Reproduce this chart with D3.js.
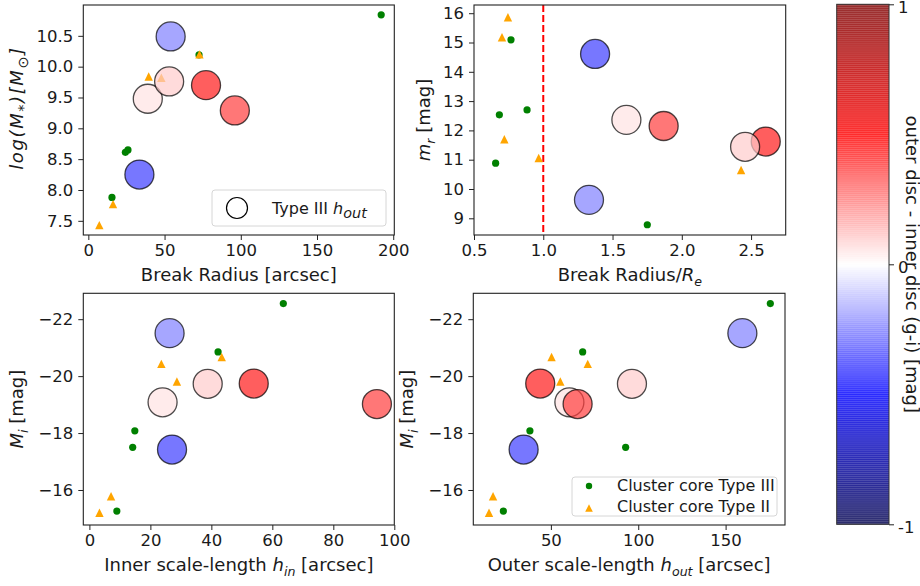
<!DOCTYPE html>
<html>
<head>
<meta charset="utf-8">
<script src="https://cdn.jsdelivr.net/npm/d3@7"></script>
<style>
  body { margin: 0; background: #fff; }
  svg { display: block; font-family: "DejaVu Sans", sans-serif; }
</style>
</head>
<body>
<svg id="chart" width="920" height="586"></svg>
<script>
'use strict';

/* global d3 */

// Type III h_out sample (big circles), colour = outer - inner disc (g-i)
var houtColour = [-0.25, 0.056, 0.45, 0.10, 0.38, -0.38];
var houtBreak = [54.0, 39.0, 77.2, 53.0, 96.1, 33.5];
var houtMass = [10.49, 9.48, 9.70, 9.76, 9.29, 8.25];
var houtRatio = [1.330, 1.600, 2.606, 2.457, 1.869, 1.374];
var houtMr = [9.63, 12.36, 11.62, 11.44, 12.15, 14.61];
var houtHin = [26.3, 24.0, 53.9, 38.8, 94.3, 27.1];
var houtHout = [159.6, 60.6, 43.9, 96.4, 65.3, 34.4];
var houtMi = [-21.51, -19.08, -19.74, -19.73, -19.02, -17.42];

// Cluster core Type III
var c3Break = [192.1, 72.6, 24.3, 26.0, 15.5];
var c3Mass = [10.84, 10.19, 8.61, 8.65, 7.88];
var c3Ratio = [1.751, 0.656, 0.683, 0.883, 0.767];
var c3Mr = [8.78, 10.88, 12.53, 12.70, 15.09];
var c3Hin = [63.6, 42.2, 14.9, 14.2, 9.0];
var c3Hout = [175.6, 68.2, 38.0, 92.8, 22.8];
var c3Mi = [-22.55, -20.85, -18.08, -17.50, -15.26];

// Cluster core Type II
var c2Break = [72.9, 39.6, 47.9, 16.2, 7.2];
var c2Mass = [10.20, 9.84, 9.82, 7.77, 7.43];
var c2Ratio = [2.428, 0.967, 0.719, 0.702, 0.745];
var c2Mr = [10.65, 11.06, 11.70, 15.18, 15.86];
var c2Hin = [43.4, 23.6, 28.7, 7.1, 3.3];
var c2Hout = [50.4, 71.1, 55.4, 16.9, 14.6];
var c2Mi = [-20.67, -20.43, -19.81, -15.78, -15.20];

var colourTicks = [-1, 0, 1];

var svg = d3.select('#chart');
var tickSize = 16.5;
var labelSize = 18;
var legendSize = 16;

var seismic = d3.scaleLinear()
  .domain([-1, -0.5, 0, 0.5, 1])
  .range(['#00004d', '#0000ff', '#ffffff', '#ff0000', '#800000'])
  .clamp(true);

// text with italic parts and subscripts
function rich(sel, parts, size, subScale) {
  var shift = 0;
  subScale = subScale || 0.7;
  parts.forEach(function (p) {
    var t = sel.append('tspan').text(p.t);
    if (p.it) t.attr('font-style', 'italic');
    var want = p.sub ? size * 0.25 : 0;
    if (want !== shift) {
      t.attr('dy', want - shift);
      shift = want;
    }
    if (p.sub) t.attr('font-size', size * subScale);
  });
  return sel;
}

function triangle(s) {
  return 'M0,' + (-s) + 'L' + (-s) + ',' + s + 'L' + s + ',' + s + 'Z';
}

var panels = [
  {
    box: [83.3, 5, 394.3, 235], xd: [-3.3, 200.7], yd: [7.27, 11.0],
    xt: [0, 50, 100, 150, 200], yt: [7.5, 8, 8.5, 9, 9.5, 10, 10.5],
    xf: d3.format('d'), yf: d3.format('.1f'),
    x3: c3Break, y3: c3Mass, x2: c2Break, y2: c2Mass, xh: houtBreak, yh: houtMass,
    xlab: [{ t: 'Break Radius [arcsec]' }],
    ylab: [{ t: 'log(M', it: true }, { t: '*', sub: true, it: true }, { t: ')[M', it: true }, { t: '\u2299', sub: true }, { t: ']', it: true }],
    ylabOff: 60, ylabShift: -12, ylabSpace: 1.6, subScale: 0.8
  },
  {
    box: [474, 5, 785.7, 235], xd: [0.5, 2.75], yd: [8.43, 16.28],
    xt: [0.5, 1, 1.5, 2, 2.5], yt: [9, 10, 11, 12, 13, 14, 15, 16],
    xf: d3.format('.1f'), yf: d3.format('d'),
    x3: c3Ratio, y3: c3Mr, x2: c2Ratio, y2: c2Mr, xh: houtRatio, yh: houtMr,
    xlab: [{ t: 'Break Radius/' }, { t: 'R', it: true }, { t: 'e', sub: true, it: true }],
    ylab: [{ t: 'm', it: true }, { t: 'r', sub: true, it: true }, { t: ' [mag]' }],
    ylabOff: 44, vline: 1.0
  },
  {
    box: [83.3, 293.3, 394.3, 525], xd: [-2, 100], yd: [-22.91, -14.77], flip: true,
    xt: [0, 20, 40, 60, 80, 100], yt: [-22, -20, -18, -16],
    xf: d3.format('d'), yf: d3.format('d'),
    x3: c3Hin, y3: c3Mi, x2: c2Hin, y2: c2Mi, xh: houtHin, yh: houtMi,
    xlab: [{ t: 'Inner scale-length ' }, { t: 'h', it: true }, { t: 'in', sub: true, it: true }, { t: ' [arcsec]' }],
    ylab: [{ t: 'M', it: true }, { t: 'i', sub: true, it: true }, { t: ' [mag]' }],
    ylabOff: 60
  },
  {
    box: [473.3, 293.3, 785, 525], xd: [5.6, 184], yd: [-22.91, -14.77], flip: true,
    xt: [50, 100, 150], yt: [-22, -20, -18, -16],
    xf: d3.format('d'), yf: d3.format('d'),
    x3: c3Hout, y3: c3Mi, x2: c2Hout, y2: c2Mi, xh: houtHout, yh: houtMi,
    xlab: [{ t: 'Outer scale-length ' }, { t: 'h', it: true }, { t: 'out', sub: true, it: true }, { t: ' [arcsec]' }],
    ylab: [{ t: 'M', it: true }, { t: 'i', sub: true, it: true }, { t: ' [mag]' }],
    ylabOff: 60, legend: true
  }
];

panels.forEach(function (p) {
  var l = p.box[0], t = p.box[1], r = p.box[2], b = p.box[3];
  var x = d3.scaleLinear().domain(p.xd).range([l, r]);
  var y = d3.scaleLinear().domain(p.yd).range(p.flip ? [t, b] : [b, t]);

  var g = svg.append('g');

  g.append('g').attr('transform', 'translate(0,' + b + ')')
    .call(d3.axisBottom(x).tickValues(p.xt).tickFormat(p.xf).tickSize(5).tickPadding(4));
  g.append('g').attr('transform', 'translate(' + l + ',0)')
    .call(d3.axisLeft(y).tickValues(p.yt).tickFormat(p.yf).tickSize(5).tickPadding(5));
  g.selectAll('.domain').remove();
  g.selectAll('.tick line').attr('stroke', '#222');
  g.selectAll('.tick text').attr('font-size', tickSize).attr('fill', '#1a1a1a')
    .attr('font-family', '"DejaVu Sans", sans-serif');

  if (p.vline) {
    g.append('line').attr('x1', x(p.vline)).attr('x2', x(p.vline))
      .attr('y1', t).attr('y2', b)
      .attr('stroke', 'red').attr('stroke-width', 2).attr('stroke-dasharray', '7,3');
  }

  g.append('g').selectAll('circle').data(p.x3).enter().append('circle')
    .attr('cx', function (d) { return x(d); })
    .attr('cy', function (d, i) { return y(p.y3[i]); })
    .attr('r', 3.6).attr('fill', '#008000');

  g.append('g').selectAll('path').data(p.x2).enter().append('path')
    .attr('transform', function (d, i) { return 'translate(' + x(d) + ',' + y(p.y2[i]) + ')'; })
    .attr('d', triangle(4.2)).attr('fill', '#ffa500');

  g.append('g').selectAll('circle').data(p.xh).enter().append('circle')
    .attr('cx', function (d) { return x(d); })
    .attr('cy', function (d, i) { return y(p.yh[i]); })
    .attr('r', 14.5)
    .attr('fill', function (d, i) { return seismic(houtColour[i]); })
    .attr('fill-opacity', 0.7)
    .attr('stroke', '#000').attr('stroke-opacity', 0.7).attr('stroke-width', 1.3);

  g.append('rect').attr('x', l).attr('y', t).attr('width', r - l).attr('height', b - t)
    .attr('fill', 'none').attr('stroke', '#222').attr('stroke-width', 1.1);

  rich(g.append('text').attr('x', (l + r) / 2).attr('y', b + 46)
    .attr('text-anchor', 'middle').attr('font-size', labelSize).attr('fill', '#1a1a1a'), p.xlab, labelSize);

  rich(g.append('text')
    .attr('transform', 'translate(' + (l - p.ylabOff) + ',' + ((t + b) / 2 + (p.ylabShift || 0)) + ') rotate(-90)')
    .attr('text-anchor', 'middle').attr('font-size', labelSize).attr('fill', '#1a1a1a')
    .attr('letter-spacing', p.ylabSpace || 0), p.ylab, labelSize, p.subScale);

  if (p.legend) {
    var lg = g.append('g');
    lg.append('rect').attr('x', 572).attr('y', 477).attr('width', 205).attr('height', 39)
      .attr('rx', 3).attr('fill', '#fff').attr('fill-opacity', 0.8)
      .attr('stroke', '#d6d6d6');
    lg.append('circle').attr('cx', 589).attr('cy', 486).attr('r', 3.2).attr('fill', '#008000');
    lg.append('path').attr('transform', 'translate(589,508)').attr('d', triangle(3.8)).attr('fill', '#ffa500');
    lg.append('text').attr('x', 617).attr('y', 491).attr('font-size', legendSize).attr('fill', '#1a1a1a')
      .text('Cluster core Type III');
    lg.append('text').attr('x', 617).attr('y', 512).attr('font-size', legendSize).attr('fill', '#1a1a1a')
      .text('Cluster core Type II');
  }
});

// legend of the first panel
var lg1 = svg.append('g');
lg1.append('rect').attr('x', 212).attr('y', 190).attr('width', 174).attr('height', 36)
  .attr('rx', 3).attr('fill', '#fff').attr('fill-opacity', 0.8).attr('stroke', '#d6d6d6');
lg1.append('circle').attr('cx', 237).attr('cy', 208).attr('r', 10.5)
  .attr('fill', '#fff').attr('stroke', '#000').attr('stroke-width', 1.2);
rich(lg1.append('text').attr('x', 272).attr('y', 213.5).attr('font-size', legendSize).attr('fill', '#1a1a1a'),
  [{ t: 'Type III ' }, { t: 'h', it: true }, { t: 'out', sub: true, it: true }], legendSize, 0.9);

// colour bar
var cb = { l: 836.7, r: 889, t: 4.3, b: 524.3 };
var cy = d3.scaleLinear().domain([-1, 1]).range([cb.b, cb.t]);
var steps = d3.range(256).map(function (i) { return -1 + (i + 0.5) * 2 / 256; });
var stepH = (cb.b - cb.t) / 256;
var cbar = svg.append('g');
cbar.selectAll('rect').data(steps).enter().append('rect')
  .attr('x', cb.l).attr('width', cb.r - cb.l)
  .attr('y', function (d) { return cy(d) - stepH / 2 - 0.3; })
  .attr('height', stepH + 0.6)
  .attr('fill', function (d) { return seismic(d); })
  .attr('fill-opacity', 0.7);
cbar.append('rect').attr('x', cb.l).attr('y', cb.t).attr('width', cb.r - cb.l).attr('height', cb.b - cb.t)
  .attr('fill', 'none').attr('stroke', '#333').attr('stroke-width', 1);

var caxis = svg.append('g').attr('transform', 'translate(' + cb.r + ',0)')
  .call(d3.axisRight(cy).tickValues(colourTicks).tickFormat(function (d) { return d < 0 ? '-' + Math.abs(d) : String(d); })
    .tickSize(5).tickPadding(4));
caxis.select('.domain').remove();
caxis.selectAll('.tick line').attr('stroke', '#222');
caxis.selectAll('.tick text').attr('font-size', tickSize).attr('fill', '#1a1a1a')
  .attr('font-family', '"DejaVu Sans", sans-serif').attr('dy', '0.5em');

svg.append('text')
  .attr('transform', 'translate(906,' + ((cb.t + cb.b) / 2) + ') rotate(90)')
  .attr('text-anchor', 'middle').attr('font-size', labelSize).attr('fill', '#1a1a1a')
  .text('outer disc - inner disc (g-i) [mag]');
</script>
</body>
</html>
